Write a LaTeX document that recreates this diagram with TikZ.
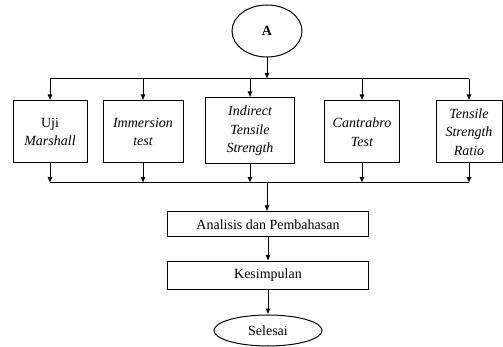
\documentclass[tikz,border=0pt]{standalone}
\usepackage{fontspec}
\setmainfont{Liberation Serif}
\usetikzlibrary{arrows.meta,shapes.geometric}

\tikzset{
box/.style = {draw, line width=1pt, inner sep=2pt, align=center,
	font=\itshape\fontsize{14}{18.5}\selectfont},
endbox/.style = {draw, line width=1pt, ellipse, inner sep=0pt,
	font=\fontsize{14}{17}\selectfont},
flow/.style = {line width=1pt, -{Latex[length=6pt,width=5pt]}},
bus/.style = {line width=1pt}
}

\begin{document}
\begin{tikzpicture}[x=1pt,y=-1pt]
\useasboundingbox (0,0) rectangle (503,347);

% start
\node[endbox, minimum width=70pt, minimum height=52pt, font=\bfseries\fontsize{14}{17}\selectfont] (A) at (267,31) {A};
\coordinate (top) at (267,79);
\coordinate (bot) at (267,183);
\draw[flow] (A) -- (top);

% tests
\foreach \n/\x/\y/\w/\h/\t in {
	uji/50/132/74/62/{\textup{Uji}\\Marshall},
	imm/143/132/80/62/{Immersion\\test},
	its/250/131/89/66/{Indirect\\Tensile\\Strength},
	cant/362/132/75/62/{Cantrabro\\Test},
	tsr/469/132/66/62/{Tensile\\Strength\\Ratio}}
{
	\node[box, minimum width=\w pt, minimum height=\h pt] (\n) at (\x,\y) {\t};
	\draw[flow] (\n.north |- top) -- (\n.north);
	\draw[flow] (\n.south) -- (\n.south |- bot);
}
\draw[bus] (uji.north |- top) -- (tsr.north |- top);
\draw[bus] (uji.south |- bot) -- (tsr.south |- bot);

% result
\node[box, font=\fontsize{14}{17}\selectfont, minimum width=201pt, minimum height=25pt] (anl) at (268,224.5) {Analisis dan Pembahasan};
\node[box, font=\fontsize{14}{17}\selectfont, minimum width=201pt, minimum height=28pt] (kes) at (268,275.5) {Kesimpulan};
\node[endbox, minimum width=108pt, minimum height=31pt] (end) at (268,330.5) {Selesai};

\draw[flow] (bot) -- (bot |- anl.north);
\draw[flow] (anl) -- (kes);
\draw[flow] (kes) -- (end);
\end{tikzpicture}
\end{document}
